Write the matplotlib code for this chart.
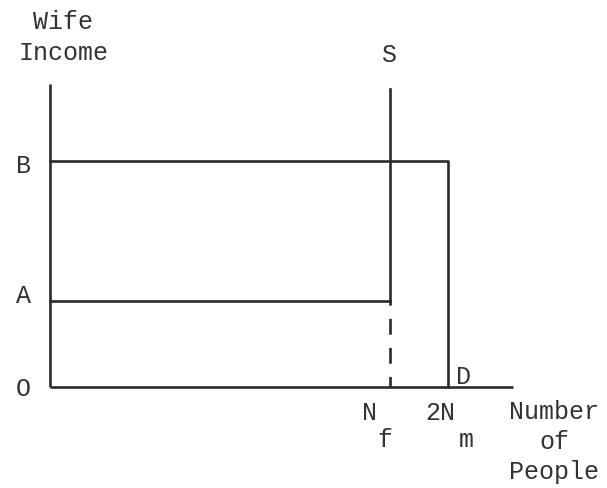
import matplotlib
matplotlib.use("Agg")
import matplotlib.pyplot as plt

# Diagram values (arbitrary units, origin O at 0,0)
income_levels = {"A": 86, "B": 226}       # wife income levels
people = {"N_f": 340, "2N_m": 398}        # number of people
supply_top = 298                          # top of the S line
y_axis_top = 303
x_axis_end = 463

ink = "#2b2b2b"
lw = 1.9
font = dict(family="Liberation Mono", fontsize=18, color="#333333")

fig = plt.figure(figsize=(6.07, 4.89), dpi=100)
ax = fig.add_axes([0, 0, 1, 1])
ax.set_xlim(-50, 557)
ax.set_ylim(-101, 388)
ax.axis("off")

# Axes of the diagram
ax.plot([0, 0], [0, y_axis_top], color=ink, lw=lw, solid_capstyle="butt")
ax.plot([0, x_axis_end], [0, 0], color=ink, lw=lw, solid_capstyle="butt")

# Supply line S: vertical at N_f, dashed below A
nf = people["N_f"]
ax.plot([nf, nf], [income_levels["A"], supply_top], color=ink, lw=lw)
ax.plot([nf, nf], [0, income_levels["A"]], color=ink, lw=lw,
        linestyle=(2, (6, 5)))

# Horizontal at A up to N_f
ax.plot([0, nf], [income_levels["A"]] * 2, color=ink, lw=lw)

# Demand D: horizontal at B to 2N_m, then down
nm = people["2N_m"]
ax.plot([0, nm, nm], [income_levels["B"], income_levels["B"], 0],
        color=ink, lw=lw)

# Labels
ax.text(-27, income_levels["B"] - 4, "B", ha="center", va="center", **font)
ax.text(-27, income_levels["A"] + 6, "A", ha="center", va="center", **font)
ax.text(-27, -1, "O", ha="center", va="center", **font)
ax.text(13, 366, "Wife", ha="center", va="center", **font)
ax.text(13, 335, "Income", ha="center", va="center", **font)
ax.text(nf - 1, 333, "S", ha="center", va="center", **font)
ax.text(nm + 16, 11, "D", ha="center", va="center", **font)

ax.text(nf - 20, -25, "N", ha="center", va="center", **font)
ax.text(nf - 5, -52, "f", ha="center", va="center", **font)
ax.text(nm - 8, -25, "2N", ha="center", va="center", **font)
ax.text(nm + 18, -52, "m", ha="center", va="center", **font)

ax.text(504, -24, "Number", ha="center", va="center", **font)
ax.text(504, -54, "of", ha="center", va="center", **font)
ax.text(504, -84, "People", ha="center", va="center", **font)

fig.savefig("out.png", dpi=100, facecolor="white")
